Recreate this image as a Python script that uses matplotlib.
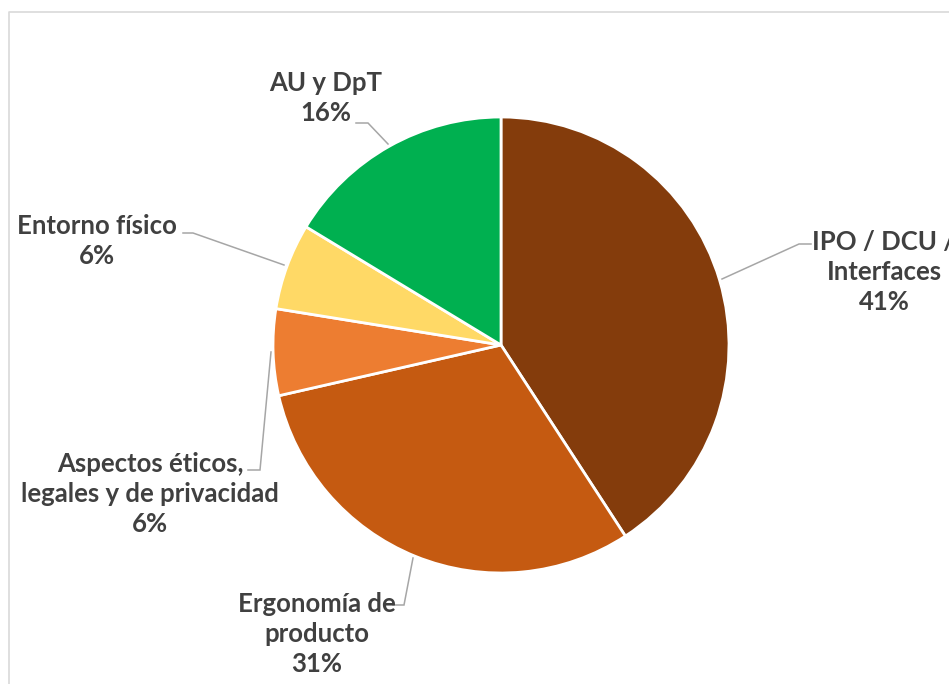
import matplotlib.pyplot as plt

W, H = 949, 684

categories = ["IPO / DCU /\nInterfaces", "Ergonomía de\nproducto",
              "Aspectos éticos,\nlegales y de privacidad", "Entorno físico", "AU y DpT"]
counts = [20, 15, 3, 3, 8]
colors = ["#843C0C", "#C55A11", "#ED7D31", "#FFD966", "#00B050"]

# label centre (px from top-left) and leader polyline per slice
label_pos = [(884, 272), (317, 634), (150, 494), (97, 241), (326, 98)]
leaders = [
    [(811, 244), (799, 244), (722, 279)],
    [(393, 605), (404, 605), (413, 558)],
    [(248, 470), (260, 470), (271, 352)],
    [(183, 233), (193, 233), (284, 265)],
    [(356, 123), (368, 123), (388, 144)],
]

fig = plt.figure(figsize=(W / 100, H / 100), dpi=100)
ax = fig.add_axes([0, 0, 1, 1])

ax.pie(counts, colors=colors, startangle=90, counterclock=False,
       center=(501, H - 345), radius=228,
       wedgeprops=dict(edgecolor="white", linewidth=2))

total = sum(counts)
for cat, c, (x, y), pts in zip(categories, counts, label_pos, leaders):
    pct = round(c / total * 100)
    ax.text(x, H - y, f"{cat}\n{pct}%", ha="center", va="center",
            fontsize=18.5, fontweight="bold", family="Lato", color="#404040",
            linespacing=1.32, clip_on=False)
    ax.plot([p[0] for p in pts], [H - p[1] for p in pts],
            color="#A6A6A6", lw=1.1, solid_joinstyle="miter")

# chart area border (only top and left are visible)
ax.plot([9.5, 9.5, W], [0, H - 11.5, H - 11.5], color="#D9D9D9", lw=1.2)

ax.set_xlim(0, W)
ax.set_ylim(0, H)
ax.set_aspect("equal")
ax.axis("off")

fig.savefig("out.png", dpi=100)
